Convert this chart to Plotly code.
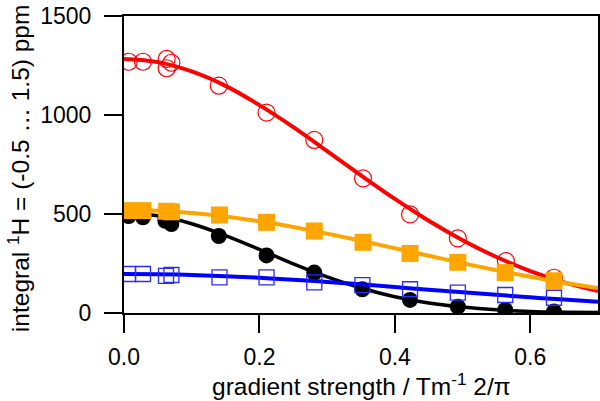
import plotly.graph_objects as go

# ---- data ----
g_red = [0.007, 0.028, 0.063, 0.070, 0.063, 0.140, 0.2105, 0.281, 0.353, 0.4224, 0.493, 0.564, 0.635]
red_pts = [1269, 1269, 1283, 1264, 1236, 1148, 1012, 874, 680, 498, 377, 262, 178]

g_black = [0.007, 0.028, 0.061, 0.070, 0.140, 0.2105, 0.281, 0.352, 0.4224, 0.493, 0.563, 0.635]
black_pts = [490, 483, 466, 449, 389, 291, 204, 120, 66, 32, 15, 7]

g_orange = [0.007, 0.028, 0.063, 0.070, 0.141, 0.2105, 0.281, 0.353, 0.4224, 0.493, 0.563, 0.635]
orange_pts = [517, 517, 514, 511, 495, 458, 414, 357, 301, 256, 204, 163]

g_blue = [0.006, 0.028, 0.062, 0.070, 0.141, 0.2105, 0.281, 0.352, 0.4224, 0.493, 0.563, 0.635]
blue_pts = [197, 197, 187, 192, 180, 180, 155, 141, 120, 103, 91, 77]

# fitted curves
g_fit = [0.0, 0.05, 0.10, 0.15, 0.20, 0.25, 0.30, 0.35, 0.40, 0.45, 0.50, 0.55, 0.60, 0.65, 0.70]
red_fit = [1283, 1267, 1220, 1147, 1050, 939, 818, 695, 576, 466, 368, 283, 212, 155, 111]
black_fit = [505, 491, 451, 391, 321, 248, 182, 126, 82, 51, 30, 16, 8, 4, 2]
orange_fit = [520, 516, 505, 487, 463, 434, 401, 365, 327, 289, 252, 216, 183, 153, 126]
blue_fit = [197, 196, 192, 186, 178, 168, 157, 145, 131, 118, 105, 92, 79, 68, 57]

x_ticks = [0.0, 0.2, 0.4, 0.6]
x_ticklabels = ["0.0", "0.2", "0.4", "0.6"]
y_ticks = [0, 500, 1000, 1500]

x_title = "gradient strength / Tm<sup>-1</sup> 2/π"
y_title = "integral <sup>1</sup>H = (-0.5 … 1.5) ppm"

FONT = "Liberation Sans, Arial, Helvetica, sans-serif"

fig = go.Figure()

def line(x, y, color, w):
    fig.add_trace(go.Scatter(x=x, y=y, mode="lines", line=dict(color=color, width=w, shape="spline"),
                             hoverinfo="skip", showlegend=False))

def pts(x, y, symbol, color, size, lw=0):
    fig.add_trace(go.Scatter(x=x, y=y, mode="markers", showlegend=False,
                             marker=dict(symbol=symbol, size=size, color=color,
                                         line=dict(color=color, width=lw))))

line(g_fit, black_fit, "black", 3.5)
pts(g_black, black_pts, "circle", "black", 16)
line(g_fit, blue_fit, "#0000ff", 4)
pts(g_blue, blue_pts, "square-open", "#2b2bff", 15, 1.3)
line(g_fit, red_fit, "#ff0000", 4)
pts(g_red, red_pts, "circle-open", "#ff0000", 17, 1.2)
line(g_fit, orange_fit, "#ffa500", 4)
pts(g_orange, orange_pts, "square", "#ffa500", 17)

axis_common = dict(showline=True, linecolor="black", linewidth=2, mirror=True,
                   ticks="outside", ticklen=18, tickwidth=2, tickcolor="black",
                   showgrid=False, zeroline=False, automargin=False,
                   tickfont=dict(family=FONT, size=23, color="black"))

fig.update_xaxes(range=[0, 0.7], tickvals=x_ticks, ticktext=x_ticklabels,
                 ticklabelstandoff=4, **axis_common)
fig.update_yaxes(range=[0, 1500], tickvals=y_ticks, ticklabelstandoff=8, **axis_common)

fig.add_annotation(text=x_title, xref="paper", yref="paper", x=0.5, y=-0.2424,
                   xanchor="center", yanchor="middle", showarrow=False,
                   font=dict(family=FONT, size=24.5, color="black"))
fig.add_annotation(text=y_title, xref="paper", yref="paper", x=-0.2235, y=0.488,
                   xanchor="center", yanchor="middle", showarrow=False, textangle=-90,
                   font=dict(family=FONT, size=24.5, color="black"))

fig.update_layout(width=600, height=401, margin=dict(l=124, r=2, t=16, b=88),
                  paper_bgcolor="white", plot_bgcolor="white",
                  font=dict(family=FONT, color="black"))

fig.write_html("out.html", config={"displayModeBar": False},
               post_script="document.body.style.margin='0';document.body.style.overflow='hidden';")
